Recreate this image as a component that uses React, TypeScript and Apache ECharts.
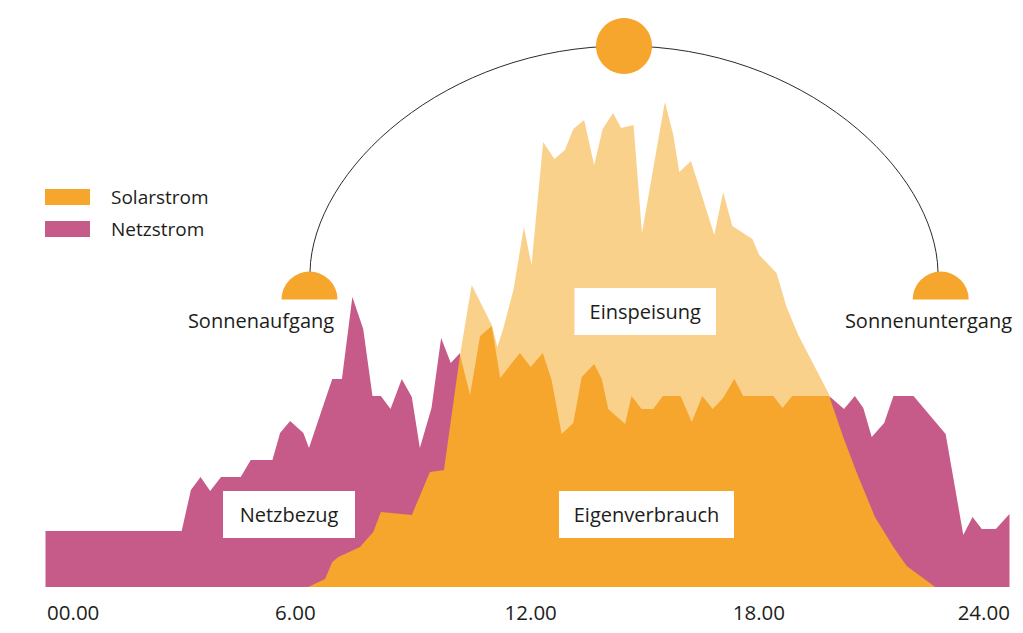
import React, { useEffect, useRef } from "react";
import * as echarts from "echarts";

const FONT = "'Open Sans', 'Noto Sans', sans-serif";
const TEXT = "#1d1d1b";
const ORANGE = "#f6a52d";
const LIGHT = "#fad18b";
const PINK = "#c65a88";

const tickLabels = ["00.00", "6.00", "12.00", "18.00", "24.00"];
const tickPlaces = [0.69, 6.22, 12.08, 17.76, 23.36];

const netzHours = [0, 3.39, 3.62, 3.86, 4.1, 4.37, 4.86, 5.11, 5.65, 5.84, 6.09, 6.42, 6.56, 6.92, 7.14, 7.38, 7.64, 7.91, 8.14, 8.35, 8.59, 8.87, 9.12, 9.32, 9.61, 9.85, 10.09, 10.32, 10.52, 19.28, 19.51, 19.88, 20.15, 20.36, 20.57, 20.88, 21.11, 21.61, 22.41, 22.85, 23.08, 23.31, 23.66, 24];
const netzValues = [56, 56, 97, 110, 96, 110, 110, 127, 127, 154, 166, 154, 139, 182, 208, 208, 290, 258, 191, 191, 178, 208, 190, 139, 179, 249, 224, 234, 147, 147, 191, 178, 191, 179, 150, 164, 191, 191, 153, 52, 70, 58, 58, 73];

const eigenHours = [6.54, 6.96, 7.14, 7.29, 7.83, 8.16, 8.35, 9.12, 9.57, 9.92, 10.32, 10.57, 10.82, 11.11, 11.32, 11.81, 12.08, 12.38, 12.6, 12.85, 13.14, 13.35, 13.66, 13.85, 14.01, 14.43, 14.59, 14.84, 15.13, 15.37, 15.81, 16.09, 16.35, 16.61, 16.87, 17.15, 17.37, 18.12, 18.35, 18.59, 19.51, 19.86, 20.2, 20.65, 21.11, 21.44, 22.15];
const eigenValues = [0, 8, 25, 30, 40, 55, 75, 72, 115, 117, 232, 192, 251, 261, 209, 234, 220, 234, 207, 153, 164, 210, 223, 208, 178, 163, 191, 178, 178, 191, 191, 165, 191, 178, 189, 208, 191, 191, 179, 191, 191, 150, 114, 70, 40, 21, 0];

const einspeisungHours = [10.32, 10.61, 11.11, 11.25, 11.4, 11.65, 11.91, 12.1, 12.39, 12.67, 12.93, 13.14, 13.41, 13.66, 13.87, 14.13, 14.33, 14.64, 14.85, 15.42, 15.63, 15.78, 16.07, 16.65, 16.87, 17.1, 17.6, 17.77, 18.2, 18.45, 18.74, 19.53];
const einspeisungValues = [232, 302, 262, 240, 259, 297, 360, 322, 445, 428, 437, 458, 467, 422, 458, 474, 459, 462, 354, 485, 452, 415, 426, 352, 395, 361, 348, 332, 314, 280, 252, 191];

const zip = (xs: number[], ys: number[]) => xs.map((x, i) => [x, ys[i]]);

const area = (name: string, xs: number[], ys: number[], color: string, z: number) => ({
  name,
  type: "line",
  data: zip(xs, ys),
  symbol: "none",
  silent: true,
  z,
  itemStyle: { color },
  lineStyle: { width: 0, color },
  areaStyle: { color, opacity: 1 },
});

const box = (x: number, y: number, width: number, height: number, label: string) => [
  { type: "rect", z: 20, shape: { x, y, width, height }, style: { fill: "#ffffff" } },
  {
    type: "text",
    z: 21,
    x: x + width / 2,
    y: y + height / 2,
    style: { text: label, fill: TEXT, font: `20px ${FONT}`, align: "center", verticalAlign: "middle" },
  },
];

const caption = (x: number, y: number, label: string) => ({
  type: "text",
  z: 21,
  x,
  y,
  style: { text: label, fill: TEXT, font: `20px ${FONT}`, align: "center", verticalAlign: "middle" },
});

const halfSun = (cx: number, cy: number) => ({
  type: "sector",
  z: 10,
  shape: { cx, cy, r: 28, r0: 0, startAngle: Math.PI, endAngle: Math.PI * 2 },
  style: { fill: ORANGE },
});

const arcLine = (x1: number, y1: number, cx1: number, cy1: number, cx2: number, cy2: number, x2: number, y2: number) => ({
  type: "bezierCurve",
  z: 9,
  shape: { x1, y1, cpx1: cx1, cpy1: cy1, cpx2: cx2, cpy2: cy2, x2, y2 },
  style: { stroke: "#2b2b2b", lineWidth: 1, fill: "none" },
});

export default function App() {
  const ref = useRef<HTMLDivElement>(null);
  useEffect(() => {
    const chart = echarts.init(ref.current!, undefined, { renderer: "svg" });
    chart.setOption({
      animation: false,
      backgroundColor: "#ffffff",
      grid: { left: 45.5, right: 13.5, top: 0, bottom: 46 },
      legend: {
        orient: "vertical",
        left: 45,
        top: 187.5,
        padding: 0,
        itemWidth: 45,
        itemHeight: 16,
        itemGap: 13,
        icon: "rect",
        selectedMode: false,
        data: ["Solarstrom", "Netzstrom"],
        textStyle: { color: TEXT, fontFamily: FONT, fontSize: 19, lineHeight: 16, padding: [0, 0, 0, 16] },
      },
      xAxis: {
        type: "value",
        min: 0,
        max: 24,
        axisLine: { show: false },
        axisTick: { show: false },
        splitLine: { show: false },
        axisLabel: {
          show: true,
          customValues: tickPlaces,
          formatter: (v: number) => {
            const i = tickPlaces.findIndex((p) => Math.abs(p - v) < 0.01);
            return i >= 0 ? tickLabels[i] : "";
          },
          color: TEXT,
          fontFamily: FONT,
          fontSize: 20.5,
          margin: 14,
          hideOverlap: false,
        },
      },
      yAxis: { type: "value", min: 0, max: 587, show: false },
      series: [
        area("Netzstrom", netzHours, netzValues, PINK, 2),
        area("Einspeisung", einspeisungHours, einspeisungValues, LIGHT, 3),
        area("Solarstrom", eigenHours, eigenValues, ORANGE, 4),
      ],
      graphic: [
        arcLine(310, 272, 312, 170, 445, 46, 624, 46),
        arcLine(938, 272, 936, 170, 803, 46, 624, 46),
        { type: "circle", z: 10, shape: { cx: 624, cy: 46, r: 28 }, style: { fill: ORANGE } },
        halfSun(309.5, 299.5),
        halfSun(940.7, 299.5),
        caption(261, 320, "Sonnenaufgang"),
        caption(928.5, 320, "Sonnenuntergang"),
        ...box(223, 491, 132, 47, "Netzbezug"),
        ...box(559, 491, 175, 47, "Eigenverbrauch"),
        ...box(574.5, 288, 141.5, 47, "Einspeisung"),
      ],
    });
    return () => chart.dispose();
  }, []);
  return <div ref={ref} style={{ position: "absolute", left: 0, top: 0, width: 1023, height: 633 }} />;
}
